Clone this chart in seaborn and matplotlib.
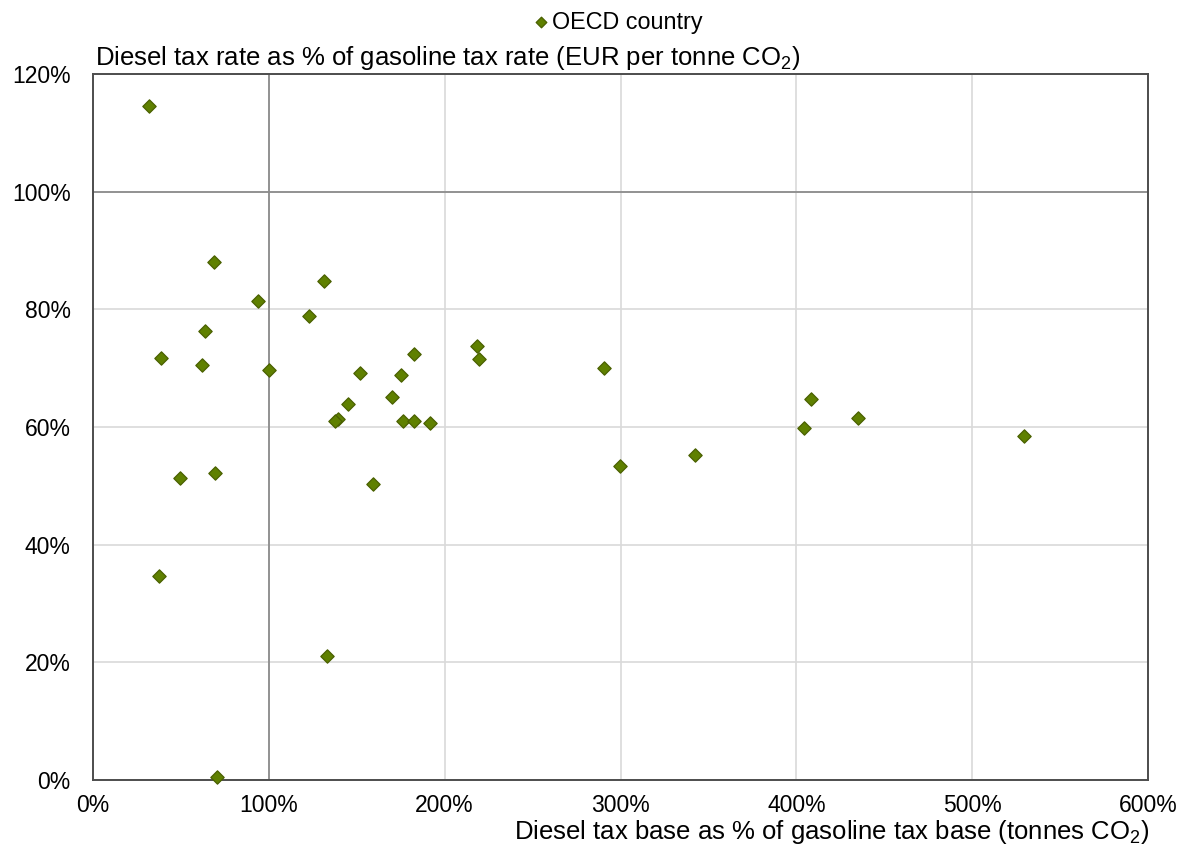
import matplotlib
matplotlib.use("Agg")
import matplotlib.pyplot as plt
from matplotlib.ticker import FuncFormatter, MultipleLocator
import seaborn as sns
import pandas as pd

# Data (percent values)
base_pct = [32.0, 68.9, 93.9, 131.3, 122.8, 63.6, 38.5, 61.9, 100.3, 151.8,
            182.3, 175.3, 170.3, 145.0, 139.1, 137.7, 176.3, 182.3, 191.4, 218.6,
            219.5, 49.7, 69.3, 159.5, 37.6, 70.4, 133.2, 290.8, 299.9, 342.5,
            404.1, 408.5, 435.0, 529.3]
rate_pct = [114.6, 88.1, 81.5, 84.9, 78.9, 76.4, 71.7, 70.6, 69.7, 69.1,
            72.4, 68.8, 65.1, 63.9, 61.4, 61.0, 61.0, 61.0, 60.7, 73.8,
            71.5, 51.3, 52.2, 50.3, 34.6, 0.5, 21.0, 70.0, 53.3, 55.2,
            59.9, 64.8, 61.5, 58.4]
series_name = "OECD country"
x_title = r"Diesel tax base as % of gasoline tax base (tonnes CO$_\mathregular{2}$)"
y_title = r"Diesel tax rate as % of gasoline tax rate (EUR per tonne CO$_\mathregular{2}$)"

df = pd.DataFrame({"base": base_pct, "rate": rate_pct})

sns.set_style("white")
plt.rcParams["font.family"] = ["Liberation Sans", "DejaVu Sans"]
plt.rcParams["mathtext.fontset"] = "custom"
plt.rcParams["mathtext.rm"] = "Liberation Sans"
plt.rcParams["mathtext.it"] = "Liberation Sans:italic"
plt.rcParams["text.color"] = "black"

FS = 16.5
FS_TITLE = 18.5
fig = plt.figure(figsize=(11.8, 8.44), dpi=100)
ax = fig.add_axes([93 / 1180, 64 / 844, (1148 - 93) / 1180, (780 - 74) / 844])

ax.set_xlim(0, 600)
ax.set_ylim(0, 120)
ax.xaxis.set_major_locator(MultipleLocator(100))
ax.yaxis.set_major_locator(MultipleLocator(20))
ax.xaxis.set_major_formatter(FuncFormatter(lambda v, p: f"{v:.0f}%"))
ax.yaxis.set_major_formatter(FuncFormatter(lambda v, p: f"{v:.0f}%"))
ax.grid(True, color="#D9D9D9", linewidth=1.2, zorder=0)
ax.set_axisbelow(True)
ax.axvline(100, color="#8C8C8C", linewidth=1.3, zorder=1)
ax.axhline(100, color="#8C8C8C", linewidth=1.3, zorder=1)

sns.scatterplot(data=df, x="base", y="rate", ax=ax, marker="D", s=46,
                color="#5F8000", edgecolor="#4A6000", linewidth=0.9,
                label=series_name, zorder=3, clip_on=False)

for sp in ax.spines.values():
    sp.set_visible(True)
    sp.set_color("#4D4D4D")
    sp.set_linewidth(1.4)

ax.tick_params(axis="both", length=0, labelsize=FS, colors="#000000")
ax.tick_params(axis="y", pad=16)
ax.tick_params(axis="x", pad=10)
ax.set_xlabel("")
ax.set_ylabel("")

fig.text(95 / 1180, 1 - 58 / 844, y_title, fontsize=FS_TITLE, ha="left", va="center",
         color="black")
fig.text(1149 / 1180, 1 - 832 / 844, x_title, fontsize=FS_TITLE, ha="right", va="center",
         color="black")

leg = ax.legend(loc="center", bbox_to_anchor=(616 / 1180, 1 - 22 / 844),
                bbox_transform=fig.transFigure, frameon=False, fontsize=16.8,
                handletextpad=0.0, markerscale=0.8, borderpad=0, handlelength=1.0)
for t in leg.get_texts():
    t.set_color("black")

fig.savefig("out.png", dpi=100)
